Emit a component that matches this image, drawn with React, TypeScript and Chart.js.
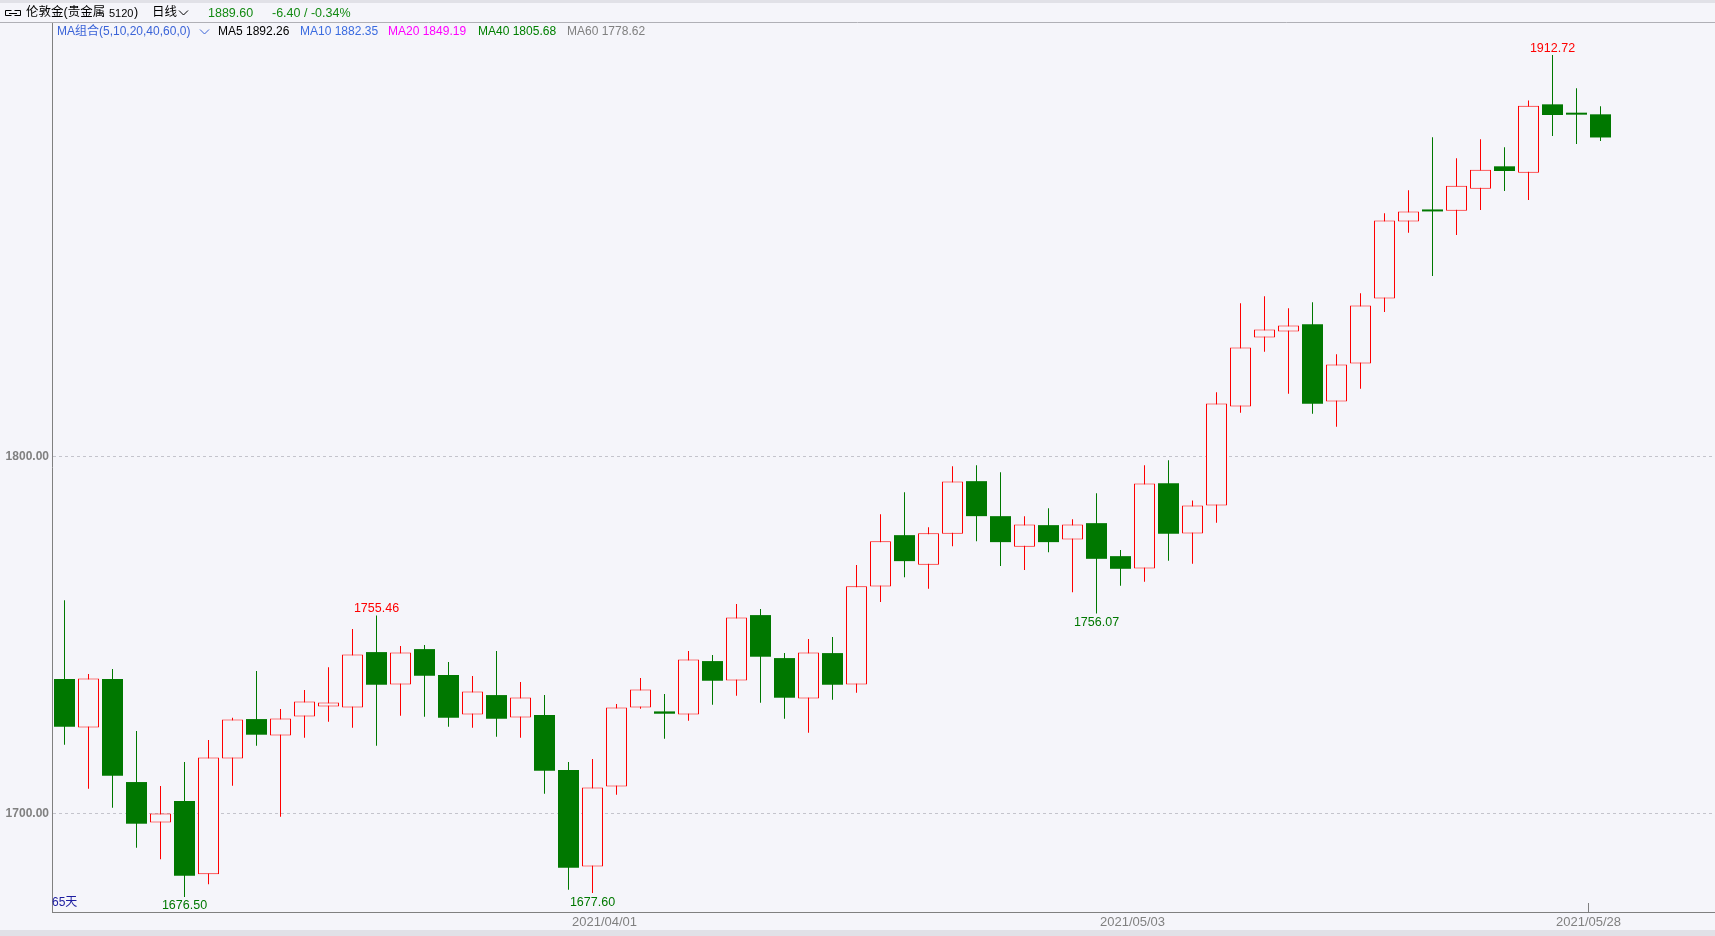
import React, { useEffect, useRef } from 'react';
import { Chart, registerables } from 'chart.js';

Chart.register(...registerables);

// ---- data (65 daily candles) ----
const openPrices = [
  1737.65, 1724.09, 1737.65, 1708.76, 1697.44, 1703.43, 1682.86, 1715.4, 1726.43, 1721.85,
  1727.18, 1729.98, 1729.7, 1745.22, 1736.15, 1746.06, 1738.77, 1727.74, 1733.16, 1726.9,
  1727.55, 1712.13, 1685.1, 1707.54, 1729.7, 1728.58, 1727.74, 1742.7, 1737.28, 1755.6,
  1743.54, 1732.23, 1744.94, 1736.15, 1763.63, 1778.03, 1769.71, 1778.41, 1793.18, 1783.36,
  1774.76, 1780.84, 1776.82, 1781.4, 1772.14, 1768.68, 1792.62, 1778.5, 1786.35, 1814.12,
  1833.47, 1835.16, 1837.21, 1815.52, 1826.18, 1844.4, 1866.0, 1869.4, 1869.07, 1875.25,
  1881.51, 1879.73, 1898.9, 1896.5, 1896.1,
];
const highPrices = [
  1759.8, 1739.05, 1740.45, 1723.06, 1707.64, 1714.37, 1720.54, 1726.8, 1739.9, 1729.24,
  1734.56, 1741.0, 1751.68, 1755.46, 1746.9, 1747.19, 1742.42, 1738.49, 1745.5, 1736.81,
  1733.16, 1714.37, 1715.21, 1730.64, 1737.93, 1733.44, 1745.5, 1744.38, 1758.69, 1757.29,
  1744.94, 1748.87, 1749.43, 1769.62, 1783.92, 1790.09, 1780.28, 1797.39, 1797.67, 1795.7,
  1783.36, 1785.61, 1782.52, 1789.81, 1773.83, 1797.67, 1799.07, 1787.76, 1818.14, 1843.1,
  1845.07, 1841.7, 1843.38, 1828.8, 1845.91, 1868.33, 1874.78, 1889.65, 1883.76, 1889.08,
  1886.84, 1900.0, 1912.72, 1903.39, 1898.34,
];
const lowPrices = [
  1719.2, 1706.9, 1701.56, 1690.34, 1687.07, 1676.5, 1680.06, 1707.73, 1718.95, 1699.03,
  1721.2, 1725.68, 1724.0, 1718.95, 1727.37, 1727.09, 1724.28, 1724.0, 1721.47, 1721.2,
  1705.49, 1678.56, 1677.6, 1705.2, 1729.33, 1720.91, 1725.96, 1730.45, 1732.97, 1731.01,
  1726.52, 1722.6, 1731.85, 1733.82, 1759.24, 1766.25, 1762.98, 1774.95, 1776.35, 1769.34,
  1768.22, 1773.26, 1762.04, 1756.07, 1763.82, 1764.94, 1770.83, 1769.99, 1781.49, 1812.34,
  1829.45, 1817.67, 1812.06, 1808.42, 1819.07, 1840.66, 1862.9, 1850.75, 1862.25, 1869.26,
  1874.59, 1872.07, 1890.02, 1887.78, 1888.62,
];
const closePrices = [
  1724.28, 1737.84, 1710.5, 1697.07, 1699.97, 1682.49, 1715.68, 1726.34, 1722.04, 1726.62,
  1731.39, 1731.1, 1744.57, 1736.06, 1745.13, 1738.58, 1726.8, 1734.19, 1726.52, 1732.51,
  1711.94, 1684.73, 1707.26, 1729.7, 1734.75, 1727.93, 1743.17, 1737.18, 1754.95, 1743.92,
  1732.42, 1745.13, 1736.06, 1763.7, 1776.35, 1770.74, 1778.59, 1793.09, 1783.36, 1776.07,
  1781.02, 1776.07, 1781.02, 1771.39, 1768.59, 1792.53, 1778.41, 1786.35, 1814.96, 1830.67,
  1835.72, 1836.84, 1814.87, 1825.9, 1842.45, 1866.28, 1868.8, 1868.85, 1876.09, 1880.58,
  1880.2, 1898.53, 1895.91, 1896.0, 1889.6,
];

const dateTickIndex = [23, 45, 64];
const dateTickLabels = ['2021/04/01', '2021/05/03', '2021/05/28'];
const markedTickIndex = 64;
const yTickValues = [1700, 1800];

const markIndex = [13, 62, 5, 22, 43];
const markIsHigh = [true, true, false, false, false];

const symbolName = '伦敦金(贵金属';
const symbolCode = '5120';
const periodName = '日线';
const lastPrice = 1889.6;
const priceChange = -6.4;
const priceChangePct = -0.34;
const maGroupLabel = 'MA组合(5,10,20,40,60,0)';
const maNames = ['MA5', 'MA10', 'MA20', 'MA40', 'MA60'];
const maValues = [1892.26, 1882.35, 1849.19, 1805.68, 1778.62];
const maColors = ['#000000', '#3a6be0', '#ff00ff', '#008000', '#808080'];
const dayCountLabel = '65天';

// ---- styles ----
const W = 1715;
const H = 936;
const BG = '#f5f5fa';
const STRIP = '#e1e1e7';
const RED = '#ff0000';
const GREEN = '#007800';
const AXIS = '#808080';
const LATIN = '"Liberation Sans", "Noto Sans CJK SC", sans-serif';
const Y_AXIS_W = 52;
const TOP = 22;
const X_AXIS_H = 24;
const SLOT = 24;

export default function App() {
  const ref = useRef<HTMLCanvasElement | null>(null);

  useEffect(() => {
    const canvas = ref.current;
    if (!canvas) return;
    const idx = openPrices.map((_, i) => i);
    const up = idx.map((i) => closePrices[i] >= openPrices[i]);
    const xMin = -0.5 - 1 / 48;
    const xMax = xMin + (W - Y_AXIS_W) / SLOT;

    const drawPlugin = {
      id: 'decor',
      beforeDraw(chart: any) {
        const ctx = chart.ctx;
        ctx.save();
        ctx.fillStyle = BG;
        ctx.fillRect(0, 0, W, H);
        ctx.fillStyle = STRIP;
        ctx.fillRect(0, 0, W, 3);
        ctx.fillRect(0, 930, W, H - 930);
        ctx.restore();
      },
      afterDraw(chart: any) {
        const ctx = chart.ctx;
        const xs = chart.scales.x;
        const ys = chart.scales.y;
        ctx.save();
        // header separator
        ctx.strokeStyle = '#b0b0b6';
        ctx.lineWidth = 1;
        ctx.beginPath();
        ctx.moveTo(0, 22.5);
        ctx.lineTo(W, 22.5);
        ctx.stroke();

        // link icon
        ctx.strokeStyle = '#000000';
        ctx.beginPath();
        ctx.moveTo(11.5, 10.5); ctx.lineTo(5.5, 10.5); ctx.lineTo(5.5, 15.5); ctx.lineTo(11.5, 15.5);
        ctx.moveTo(14.5, 10.5); ctx.lineTo(20.5, 10.5); ctx.lineTo(20.5, 15.5); ctx.lineTo(14.5, 15.5);
        ctx.moveTo(9, 13.5); ctx.lineTo(17, 13.5);
        ctx.stroke();

        ctx.textBaseline = 'middle';
        ctx.textAlign = 'left';
        ctx.fillStyle = '#000000';
        ctx.font = `12.5px ${LATIN}`;
        ctx.fillText(symbolName, 26, 13);
        ctx.font = `11px ${LATIN}`;
        ctx.fillText(symbolCode, 109, 13.5);
        ctx.font = `12.5px ${LATIN}`;
        ctx.fillText(')', 134, 13);
        ctx.fillText(periodName, 152, 13);
        ctx.beginPath();
        ctx.moveTo(179, 10.5); ctx.lineTo(183.5, 15); ctx.lineTo(188, 10.5);
        ctx.stroke();
        ctx.fillStyle = '#138a13';
        ctx.font = `12.5px ${LATIN}`;
        ctx.fillText(lastPrice.toFixed(2), 208, 13.5);
        ctx.fillText(`${priceChange.toFixed(2)} / ${priceChangePct.toFixed(2)}%`, 272, 13.5);

        // MA legend
        ctx.font = `12px ${LATIN}`;
        ctx.fillStyle = '#3a63d8';
        ctx.fillText(maGroupLabel, 57, 31.5);
        ctx.strokeStyle = '#3a63d8';
        ctx.beginPath();
        ctx.moveTo(200, 29.5); ctx.lineTo(204.5, 34); ctx.lineTo(209, 29.5);
        ctx.stroke();
        const maX = [218, 300, 388, 478, 567];
        maNames.forEach((n, i) => {
          ctx.fillStyle = maColors[i];
          ctx.fillText(`${n} ${maValues[i].toFixed(2)}`, maX[i], 31.5);
        });

        // high / low markers
        ctx.font = `12.5px ${LATIN}`;
        ctx.textAlign = 'center';
        markIndex.forEach((ci, k) => {
          const px = xs.getPixelForValue(ci);
          if (markIsHigh[k]) {
            ctx.fillStyle = RED;
            ctx.fillText(highPrices[ci].toFixed(2), px, ys.getPixelForValue(highPrices[ci]) - 7);
          } else {
            ctx.fillStyle = GREEN;
            ctx.fillText(lowPrices[ci].toFixed(2), px, ys.getPixelForValue(lowPrices[ci]) + 9);
          }
        });

        // day count
        ctx.textAlign = 'left';
        ctx.fillStyle = '#1c1ca0';
        ctx.font = `12px ${LATIN}`;
        ctx.fillText(dayCountLabel, 52, 903);

        // tick mark on last date label
        const tx = Math.round(xs.getPixelForValue(markedTickIndex - 0.5) - 0.5) + 0.5;
        ctx.strokeStyle = AXIS;
        ctx.beginPath();
        ctx.moveTo(tx, 903);
        ctx.lineTo(tx, chart.chartArea.bottom);
        ctx.stroke();
        ctx.restore();
      },
    };

    const chart = new Chart(canvas, {
      type: 'bar',
      data: {
        datasets: [
          {
            label: 'body',
            data: idx.map((i) => ({ x: i, y: [openPrices[i], closePrices[i]] })) as any,
            backgroundColor: up.map((u) => (u ? BG : GREEN)),
            borderColor: up.map((u) => (u ? RED : GREEN)),
            borderWidth: up.map((u) => (u ? 1 : 0)),
            borderSkipped: false,
            barThickness: 21,
            grouped: false,
            minBarLength: 2,
            inflateAmount: 0,
            order: 0,
          } as any,
          {
            label: 'wick',
            data: idx.map((i) => ({ x: i, y: [lowPrices[i], highPrices[i]] })) as any,
            backgroundColor: up.map((u) => (u ? RED : GREEN)),
            borderWidth: 0,
            barThickness: 1,
            grouped: false,
            inflateAmount: 0,
            order: 1,
          } as any,
        ],
      },
      options: {
        animation: false,
        responsive: false,
        devicePixelRatio: 1,
        layout: { padding: { top: TOP, left: 0, right: 0, bottom: 0 } },
        plugins: { legend: { display: false }, tooltip: { enabled: false } },
        scales: {
          x: {
            type: 'linear',
            min: xMin,
            max: xMax,
            bounds: 'data',
            offset: false,
            grace: 0,
            grid: { display: false, drawTicks: false, offset: false },
            border: { display: true, color: AXIS, width: 1 },
            ticks: {
              autoSkip: false,
              maxRotation: 0,
              padding: 3,
              color: AXIS,
              font: { family: LATIN, size: 13 },
              callback: (_v: any, i: number) => dateTickLabels[i] ?? '',
            },
            afterBuildTicks: (s: any) => {
              s.ticks = dateTickIndex.map((d) => ({ value: d - 0.5 }));
            },
            afterFit: (s: any) => {
              s.height = X_AXIS_H;
            },
          },
          y: {
            type: 'linear',
            position: 'left',
            min: 1672.3,
            max: 1922.0,
            bounds: 'data',
            grid: { color: '#c4c4cc', lineWidth: 1, drawTicks: false },
            border: { display: true, color: AXIS, width: 1, dash: [3, 3] },
            ticks: {
              padding: 3,
              color: AXIS,
              font: { family: LATIN, size: 12, weight: 'bold' },
              callback: (v: any) => Number(v).toFixed(2),
            },
            afterBuildTicks: (s: any) => {
              s.ticks = yTickValues.map((v) => ({ value: v }));
            },
            afterFit: (s: any) => {
              s.width = Y_AXIS_W;
            },
          },
        },
      } as any,
      plugins: [drawPlugin],
    });
    return () => chart.destroy();
  }, []);

  return (
    <div style={{ position: 'fixed', left: 0, top: 0, width: W, height: H, background: BG }}>
      <canvas ref={ref} width={W} height={H} style={{ display: 'block', width: W, height: H }} />
    </div>
  );
}
